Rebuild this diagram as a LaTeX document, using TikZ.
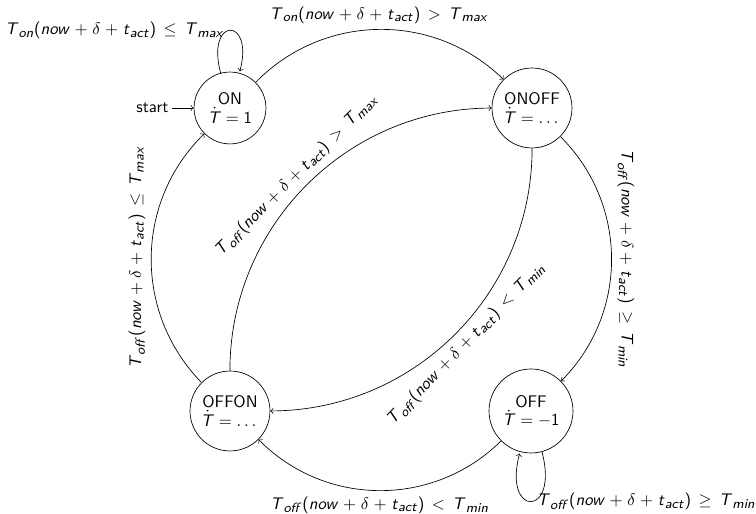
\documentclass[tikz,border=0pt]{standalone}
\usepackage{amsmath}
% slightly larger subscripts than the default 7pt
\DeclareMathSizes{10}{10}{8}{6}
% sans-serif slanted variable names and upright sans delimiters inside formulas
\newcommand{\sv}[1]{\textsf{\slshape #1\/}}
\newcommand{\su}[1]{\textsf{#1}}
\newcommand{\guard}[3]{$\medmuskip=5mu \thickmuskip=8mu
  \sv{T}_{\sv{#1}}\su{(}\sv{now}+\delta+\sv{t}_{\sv{act}}\su{)}#2\sv{T}_{\sv{#3}}$}
\begin{document}
\begin{tikzpicture}[
    x=0.5953pt, y=0.5953pt, >=to,
    every node/.style={font=\sffamily},
    state/.style={circle, draw, inner sep=0pt, align=center},
  ]
  \useasboundingbox (0,0) rectangle (756,514);

  % states
  \node[state, minimum size=42.8pt] (on)    at (230,406) {ON\\[-1pt]$\dot{\sv{T}}=\su{1}$};
  \node[state, minimum size=47.6pt] (onoff) at (532,406) {ONOFF\\[-1pt]$\dot{\sv{T}}=\dots$};
  \node[state, minimum size=47.6pt] (offon) at (230,103) {OFFON\\[-1pt]$\dot{\sv{T}}=\dots$};
  \node[state, minimum size=50pt]   (off)   at (531,103) {OFF\\[-1pt]$\dot{\sv{T}}=-\su{1}$};

  % initial arrow
  \node[anchor=east, inner sep=2pt] (start) at (172,406) {start};
  \draw[->] (start) -- (on);

  % transitions
  \path[->]
    (on) edge[loop above]
      node[left] {\guard{on}{\leq}{max}} ()
    (on) edge[bend left=45]
      node[above] {\guard{on}{>}{max}} (onoff)
    (onoff) edge[bend left=45]
      node[midway, rotate=-90, anchor=south] {\guard{off}{\geq}{min}} (off)
    (off) edge[loop below]
      node[right] {\guard{off}{\geq}{min}} ()
    (off) edge[bend left=45]
      node[below] {\guard{off}{<}{min}} (offon)
    (offon) edge[bend left=45]
      node[midway, rotate=90, anchor=south] {\guard{off}{\leq}{max}} (on)
    (onoff) edge[bend left=45]
      node[midway, rotate=46, anchor=north] {\guard{off}{<}{min}} (offon)
    (offon) edge[bend left=45]
      node[midway, rotate=45, anchor=south] {\guard{off}{>}{max}} (onoff);
\end{tikzpicture}
\end{document}
